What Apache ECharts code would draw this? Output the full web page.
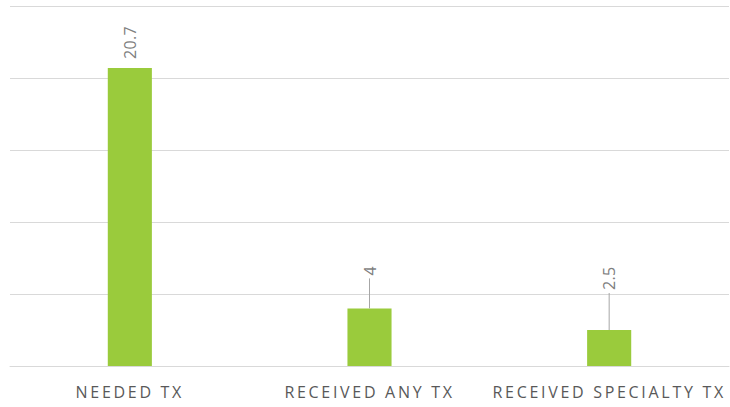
<!DOCTYPE html>
<html>
<head>
<meta charset="utf-8">
<script src="https://cdn.jsdelivr.net/npm/echarts@6/dist/echarts.min.js"></script>
<style>
  html, body { margin: 0; padding: 0; background: #fff; }
  #chart { width: 730px; height: 407px; }
  /* spaced-out capitals for the category names */
  #chart text { letter-spacing: 2.7px; }
  /* value labels keep normal spacing */
  #chart text[style*="Arial"] { letter-spacing: 0.3px; }
</style>
</head>
<body>
<div id="chart"></div>
<script>
// Treatment categories and their values
const categories = ['NEEDED TX', 'RECEIVED ANY TX', 'RECEIVED SPECIALTY TX'];
const values = [20.7, 4, 2.5];

// Leader line length above each bar (px); 0 means the label sits right on the bar
const leaderLength = [0, 30, 37];

const chart = echarts.init(document.getElementById('chart'), null, { renderer: 'svg' });
chart.setOption({
  animation: false,
  grid: { left: 10, right: 1, top: 6, bottom: 41, containLabel: false },
  xAxis: {
    type: 'category',
    data: categories,
    axisTick: { show: false },
    axisLine: { lineStyle: { color: '#d9d9d9', width: 1 } },
    axisLabel: {
      color: '#595959',
      fontFamily: 'Open Sans',
      fontSize: 16,
      margin: 18
    }
  },
  yAxis: {
    type: 'value',
    min: 0,
    max: 25,
    interval: 5,
    axisLabel: { show: false },
    axisLine: { show: false },
    axisTick: { show: false },
    splitLine: { lineStyle: { color: '#d9d9d9', width: 1 } }
  },
  series: [
    {
      type: 'bar',
      data: values,
      barWidth: '18.4%',
      itemStyle: { color: '#9acb3c' }
    },
    {
      // rotated value labels with optional leader lines
      type: 'custom',
      data: values.map((v, i) => [i, v]),
      z: 5,
      renderItem: function (params, api) {
        const i = api.value(0);
        const top = api.coord([i, api.value(1)]);
        const len = leaderLength[params.dataIndex];
        const gap = len > 0 ? len + 3 : 9;
        const children = [];
        if (len > 0) {
          children.push({
            type: 'line',
            shape: { x1: top[0], y1: top[1], x2: top[0], y2: top[1] - len },
            style: { stroke: '#a6a6a6', lineWidth: 1 }
          });
        }
        children.push({
          type: 'text',
          x: top[0],
          y: top[1] - gap,
          rotation: Math.PI / 2,
          style: {
            text: String(api.value(1)),
            fill: '#7f7f7f',
            font: "16px 'Open Sans', Arial",
            align: 'left',
            verticalAlign: 'middle'
          }
        });
        return { type: 'group', children: children };
      }
    }
  ]
});
</script>
</body>
</html>
